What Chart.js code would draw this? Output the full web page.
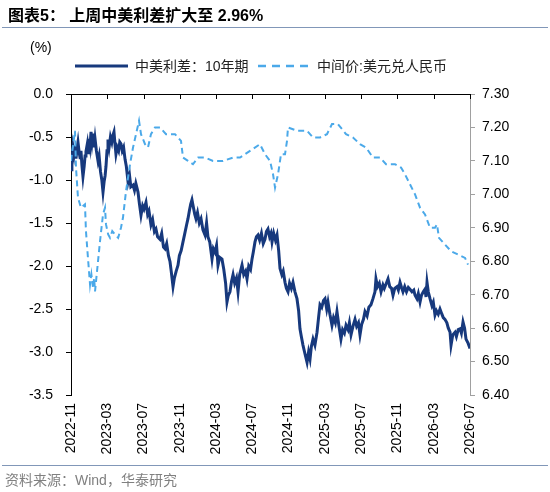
<!DOCTYPE html>
<html><head><meta charset="utf-8">
<script src="https://cdn.jsdelivr.net/npm/chart.js@4.4.1/dist/chart.umd.min.js"></script>
<style>
html,body{margin:0;padding:0;background:#fff;}
#wrap{position:relative;width:550px;height:492px;overflow:hidden;font-family:"Liberation Sans",Arial,"Noto Sans CJK SC",sans-serif;}
#c{position:absolute;left:0;top:0;}
.t{position:absolute;white-space:nowrap;}
.title{left:8px;top:5px;font-size:16px;font-weight:bold;color:#000;line-height:22px;}
.rule{position:absolute;left:2px;width:546px;height:0;border-top:1.5px solid #8197b8;}
.unit{left:30px;top:38px;font-size:14px;line-height:18px;color:#000;}
.leg{top:57px;font-size:14px;line-height:18px;color:#222;}
.src{left:5px;top:471px;font-size:14px;line-height:18px;color:#808080;}
svg{position:absolute;}
</style>
</head><body>
<div id="wrap">
<canvas id="c" width="550" height="492"></canvas>
<div class="t title">图表5： 上周中美利差扩大至 2.96%</div>
<div class="rule" style="top:27px"></div>
<div class="t unit">(%)</div>
<svg style="left:75px;top:60px" width="54" height="12"><line x1="0" y1="6" x2="53" y2="6" stroke="#17397d" stroke-width="3"/></svg>
<div class="t leg" style="left:135px">中美利差：10年期</div>
<svg style="left:258px;top:60px" width="52" height="12"><line x1="0" y1="6" x2="50" y2="6" stroke="#4ba9e9" stroke-width="2.5" stroke-dasharray="8,6"/></svg>
<div class="t leg" style="left:317px">中间价:美元兑人民币</div>
<div class="rule" style="top:465px"></div>
<div class="t src">资料来源：Wind，华泰研究</div>
</div>
<script>
const tickLabels = ['2022-11','2023-03','2023-07','2023-11','2024-03','2024-07','2024-11','2025-03','2025-07','2025-11','2026-03','2026-07'];

// months since 2022-11 and China-US 10Y spread (%)
const spreadMonths = [0,0.10,0.22,0.33,0.44,0.55,0.66,0.77,0.90,1.00,1.10,1.20,1.32,1.45,1.55,1.65,1.80,1.90,2.00,2.10,2.21,2.32,2.43,2.55,2.65,2.80,2.98,3.10,3.25,3.40,3.53,3.65,3.76,3.86,3.97,4.08,4.20,4.35,4.50,4.62,4.74,4.85,4.96,5.10,5.25,5.38,5.51,5.65,5.80,5.96,6.10,6.29,6.45,6.60,6.84,7.00,7.15,7.39,7.55,7.72,7.90,8.05,8.27,8.45,8.60,8.82,9.00,9.20,9.37,9.55,9.81,10.00,10.20,10.37,10.55,10.75,10.92,11.05,11.25,11.40,11.60,11.80,11.95,12.15,12.35,12.55,12.75,12.90,13.05,13.20,13.34,13.50,13.65,13.78,13.95,14.15,14.34,14.55,14.78,14.95,15.10,15.30,15.55,15.70,15.88,16.05,16.21,16.40,16.65,16.85,17.05,17.20,17.35,17.53,17.70,17.87,18.05,18.25,18.42,18.60,18.86,19.05,19.25,19.41,19.60,19.80,19.96,20.10,20.29,20.45,20.62,20.80,21.00,21.20,21.39,21.55,21.72,21.90,22.05,22.17,22.35,22.55,22.72,22.90,23.05,23.25,23.40,23.60,23.75,23.93,24.10,24.30,24.48,24.70,24.92,25.10,25.25,25.40,25.58,25.80,26.03,26.20,26.36,26.50,26.69,26.90,27.13,27.30,27.46,27.65,27.85,28.01,28.20,28.34,28.55,28.78,28.95,29.15,29.33,29.55,29.77,29.95,30.15,30.33,30.55,30.70,30.88,31.10,31.32,31.50,31.70,31.87,32.05,32.25,32.42,32.65,32.85,33.08,33.30,33.52,33.63,33.80,34.00,34.19,34.40,34.55,34.74,34.96,35.15,35.35,35.51,35.70,35.95,36.10,36.28,36.45,36.61,36.80,37.00,37.20,37.38,37.60,37.80,37.94,38.15,38.30,38.49,38.65,38.85,39.04,39.15,39.26,39.40,39.59,39.80,39.95,40.14,40.30,40.50,40.69,40.90,41.05,41.24,41.45,41.60,41.80,41.91,42.10,42.35,42.50,42.70,42.90,43.05,43.23,43.40,43.56,43.80,44.00];
const spreadValues = [-0.88,-0.80,-0.62,-0.70,-0.60,-0.75,-0.64,-0.56,-0.68,-0.74,-0.66,-0.82,-0.96,-0.84,-0.72,-0.67,-0.58,-0.70,-0.52,-0.60,-0.44,-0.56,-0.46,-0.62,-0.52,-0.66,-0.78,-0.72,-0.90,-1.00,-1.14,-1.02,-0.95,-0.84,-0.66,-0.53,-0.62,-0.50,-0.56,-0.48,-0.44,-0.58,-0.70,-0.62,-0.66,-0.56,-0.58,-0.66,-0.62,-0.76,-0.84,-1.02,-0.94,-1.08,-1.06,-1.12,-1.04,-1.14,-1.28,-1.41,-1.30,-1.34,-1.26,-1.40,-1.36,-1.52,-1.46,-1.60,-1.57,-1.66,-1.69,-1.62,-1.78,-1.80,-1.74,-1.88,-1.95,-2.06,-2.24,-2.14,-2.06,-1.99,-1.88,-1.82,-1.72,-1.62,-1.52,-1.45,-1.36,-1.28,-1.23,-1.32,-1.40,-1.45,-1.38,-1.50,-1.45,-1.58,-1.64,-1.50,-1.66,-1.72,-1.92,-1.80,-1.84,-1.76,-1.99,-1.90,-1.92,-2.04,-2.20,-2.42,-2.34,-2.30,-2.18,-2.10,-2.20,-2.14,-2.30,-2.10,-1.99,-2.10,-2.06,-2.15,-2.00,-2.04,-1.92,-1.84,-1.72,-1.66,-1.64,-1.70,-1.62,-1.74,-1.69,-1.60,-1.57,-1.66,-1.62,-1.72,-1.62,-1.70,-1.64,-1.82,-2.03,-2.10,-2.06,-2.19,-2.26,-2.30,-2.20,-2.26,-2.19,-2.30,-2.38,-2.52,-2.73,-2.82,-2.92,-3.02,-3.12,-3.00,-3.08,-2.94,-2.85,-2.92,-2.77,-2.60,-2.45,-2.48,-2.40,-2.38,-2.50,-2.42,-2.56,-2.69,-2.60,-2.66,-2.53,-2.70,-2.85,-2.74,-2.78,-2.69,-2.74,-2.66,-2.80,-2.70,-2.62,-2.70,-2.66,-2.80,-2.68,-2.62,-2.53,-2.58,-2.48,-2.45,-2.38,-2.30,-2.15,-2.24,-2.20,-2.30,-2.22,-2.26,-2.21,-2.15,-2.24,-2.26,-2.34,-2.26,-2.24,-2.28,-2.19,-2.25,-2.30,-2.24,-2.30,-2.25,-2.27,-2.30,-2.28,-2.34,-2.38,-2.32,-2.42,-2.34,-2.30,-2.27,-2.36,-2.19,-2.30,-2.38,-2.46,-2.42,-2.57,-2.52,-2.56,-2.50,-2.56,-2.60,-2.62,-2.66,-2.72,-2.77,-2.92,-2.80,-2.77,-2.82,-2.74,-2.73,-2.78,-2.65,-2.72,-2.85,-2.90,-2.96];

// months since 2022-11 and USD/CNY central parity
const cnyMonths = [0,0.44,0.55,0.77,1.10,1.54,1.65,1.87,2.10,2.25,2.43,2.55,2.65,2.98,3.20,3.53,3.75,3.86,4.10,4.30,4.55,4.85,5.20,5.51,5.73,6.07,6.51,6.84,7.17,7.50,7.72,8.16,8.49,8.82,9.26,9.81,10.48,11.47,12.13,12.35,12.90,13.45,14.01,14.78,15.66,16.76,17.87,18.64,19.74,20.84,21.39,21.95,22.28,22.50,22.83,23.16,23.60,23.82,23.93,24.92,26.03,26.69,27.46,28.23,28.78,29.44,30.33,31.10,31.87,32.53,33.30,34.08,34.74,35.73,36.39,36.83,37.38,37.94,38.49,39.04,39.59,40.14,40.36,40.58,41.24,41.91,42.68,43.45,43.78];
const cnyValues = [7.10,7.19,7.08,6.99,6.96,6.97,6.89,6.81,6.73,6.76,6.72,6.75,6.71,6.80,6.86,6.94,6.96,6.91,6.88,6.87,6.89,6.88,6.87,6.90,6.93,7.01,7.09,7.14,7.18,7.22,7.18,7.15,7.14,7.18,7.20,7.20,7.18,7.18,7.16,7.11,7.10,7.09,7.11,7.11,7.10,7.10,7.11,7.11,7.13,7.15,7.12,7.10,7.06,7.02,7.06,7.12,7.12,7.16,7.20,7.19,7.19,7.17,7.17,7.18,7.21,7.21,7.18,7.17,7.15,7.14,7.11,7.11,7.09,7.09,7.08,7.06,7.03,7.00,6.96,6.94,6.90,6.90,6.91,6.87,6.85,6.83,6.82,6.81,6.79];

const spreadPts = spreadMonths.map((m,i)=>({x:m,y:spreadValues[i]}));
const cnyPts = cnyMonths.map((m,i)=>({x:m,y:cnyValues[i]}));

Chart.defaults.font.family = '"Liberation Sans", Arial, sans-serif';
Chart.defaults.font.size = 14;
Chart.defaults.color = '#000';

// tick marks pointing down from the top (y = 0) axis line, at the x scale's ticks
const topTicks = {
  id:'topTicks',
  afterDraw(chart){
    const xs = chart.scales.x, ca = chart.chartArea, c = chart.ctx;
    c.save();
    c.strokeStyle = '#000'; c.lineWidth = 1;
    xs.ticks.forEach(t => {
      const px = Math.round(xs.getPixelForValue(t.value)) + 0.5;
      c.beginPath(); c.moveTo(px, ca.top); c.lineTo(px, ca.top + 5); c.stroke();
    });
    c.restore();
  }
};

new Chart(document.getElementById('c'), {
  type: 'line',
  data: { datasets: [
    {label:'中间价:美元兑人民币', data:cnyPts, xAxisID:'x', yAxisID:'y1', borderColor:'#4ba9e9', borderWidth:2, borderDash:[6,4], pointRadius:0, tension:0, fill:false, order:0},
    {label:'中美利差：10年期', data:spreadPts, xAxisID:'x', yAxisID:'y', borderColor:'#17397d', borderWidth:3, pointRadius:0, tension:0, fill:false, order:1}
  ]},
  plugins:[topTicks],
  options: {
    responsive:false, animation:false,
    layout:{padding:{top:88,left:0,right:0,bottom:27}},
    plugins:{legend:{display:false}, tooltip:{enabled:false}},
    scales:{
      x:{type:'linear', position:'bottom', min:0, max:44,
         ticks:{stepSize:4, autoSkip:false, maxRotation:90, minRotation:90, padding:8, color:'#000', font:{size:14},
                callback:(v)=> tickLabels[Math.round(v/4)] || ''},
         grid:{display:false, drawTicks:false}, border:{display:false},
         afterFit:(s)=>{s.height=70;}},
      x2:{type:'linear', position:'top', min:0, max:44,
         ticks:{stepSize:4, display:false},
         grid:{display:false, drawOnChartArea:false, drawTicks:false},
         border:{display:true, color:'#000', width:1},
         afterFit:(s)=>{s.height=6;}},
      y:{position:'left', min:-3.5, max:0,
         ticks:{stepSize:0.5, padding:13, color:'#000', font:{size:14}, callback:(v)=>Number(v).toFixed(1)},
         grid:{drawOnChartArea:false, tickLength:5, color:'#000'}, border:{color:'#000', width:1},
         afterFit:(s)=>{s.width=71;}},
      y1:{position:'right', min:6.4, max:7.3,
         ticks:{stepSize:0.1, padding:7, color:'#000', font:{size:14}, callback:(v)=>Number(v).toFixed(2)},
         grid:{drawOnChartArea:false, tickLength:5, color:'#a0a0a0'}, border:{color:'#a0a0a0', width:1},
         afterFit:(s)=>{s.width=80;}}
    }
  }
});
</script>
</body></html>
